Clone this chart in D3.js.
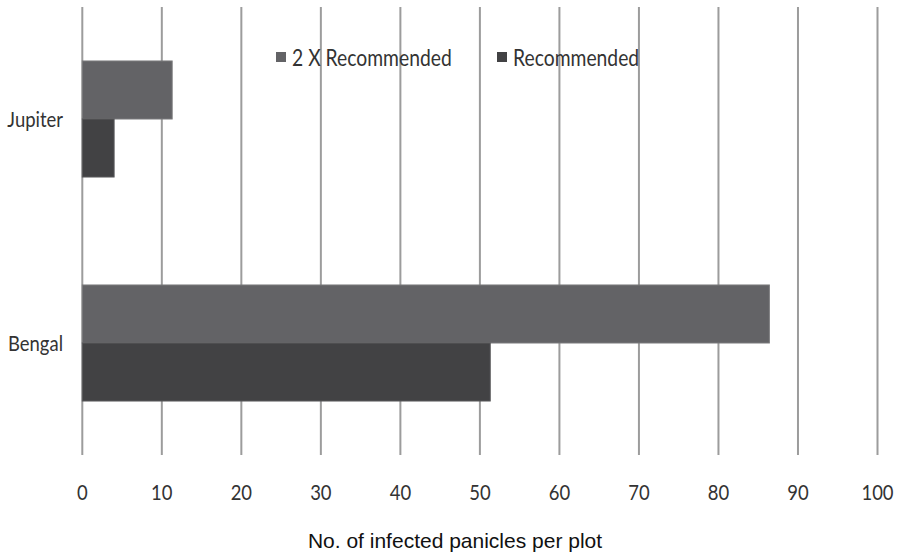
<!DOCTYPE html>
<html><head><meta charset="utf-8">
<script src="https://cdn.jsdelivr.net/npm/d3@7"></script>
<style>body{margin:0;background:#fff}svg{display:block}</style>
</head><body>
<script>
const categories = ["Jupiter", "Bengal"];
const seriesNames = ["2 X Recommended", "Recommended"];
const series2x = [11.3, 86.4];
const seriesRec = [4.0, 51.3];
const tickValues = [0, 10, 20, 30, 40, 50, 60, 70, 80, 90, 100];
const colors = ["#636366", "#424244"];
const axisTitle = "No. of infected panicles per plot";

const W = 900, H = 554;
const svg = d3.select("body").append("svg").attr("width", W).attr("height", H);

const x = d3.scaleLinear().domain([0, 100]).range([82.3, 877.5]);
const y = d3.scaleBand().domain(categories).range([7, 455]).paddingInner(0.482).paddingOuter(0.241);
const ySub = d3.scaleBand().domain(seriesNames).range([0, y.bandwidth()]);

// gridlines
svg.append("g").selectAll("line").data(tickValues).join("line")
  .attr("x1", d => x(d)).attr("x2", d => x(d))
  .attr("y1", 7).attr("y2", 455)
  .attr("stroke", "#9c9c9c").attr("stroke-width", 2);

// bars
const data = categories.map((c, i) => ({cat: c, vals: [series2x[i], seriesRec[i]]}));
const g = svg.append("g");
data.forEach(d => {
  d.vals.forEach((v, j) => {
    g.append("rect")
      .attr("x", x(0))
      .attr("y", y(d.cat) + ySub(seriesNames[j]))
      .attr("width", x(v) - x(0))
      .attr("height", ySub.bandwidth())
      .attr("fill", colors[j])
      .attr("stroke", j === 0 ? "#7a7a7c" : "#5a5a5c")
      .attr("stroke-width", 1);
  });
});

const font = "Lato, 'Open Sans', sans-serif";
const sx = 0.84;
// category labels
svg.append("g").selectAll("text").data(categories).join("text")
  .attr("transform", d => `translate(63,${y(d) + y.bandwidth() / 2 + 8}) scale(${sx},1)`)
  .attr("text-anchor", "end")
  .attr("font-family", font).attr("font-size", 22).attr("fill", "#333")
  .text(d => d);

// tick labels
svg.append("g").selectAll("text").data(tickValues).join("text")
  .attr("transform", d => `translate(${x(d)},500) scale(${sx},1)`)
  .attr("text-anchor", "middle")
  .attr("font-family", font).attr("font-size", 22).attr("fill", "#333")
  .text(d => d);

// axis title
svg.append("text").attr("x", 455).attr("y", 548)
  .attr("text-anchor", "middle")
  .attr("font-family", "'Liberation Sans', Arial, sans-serif").attr("font-size", 21).attr("fill", "#111")
  .text(axisTitle);

// legend
const legendX = [276, 497];
const lg = svg.append("g");
seriesNames.forEach((s, i) => {
  lg.append("rect").attr("x", legendX[i]).attr("y", 52).attr("width", 10).attr("height", 10).attr("fill", colors[i]);
  lg.append("text").attr("transform", `translate(${legendX[i] + 16},66) scale(${sx},1)`)
    .attr("font-family", font).attr("font-size", 23).attr("fill", "#333")
    .text(s);
});
</script>
</body></html>
